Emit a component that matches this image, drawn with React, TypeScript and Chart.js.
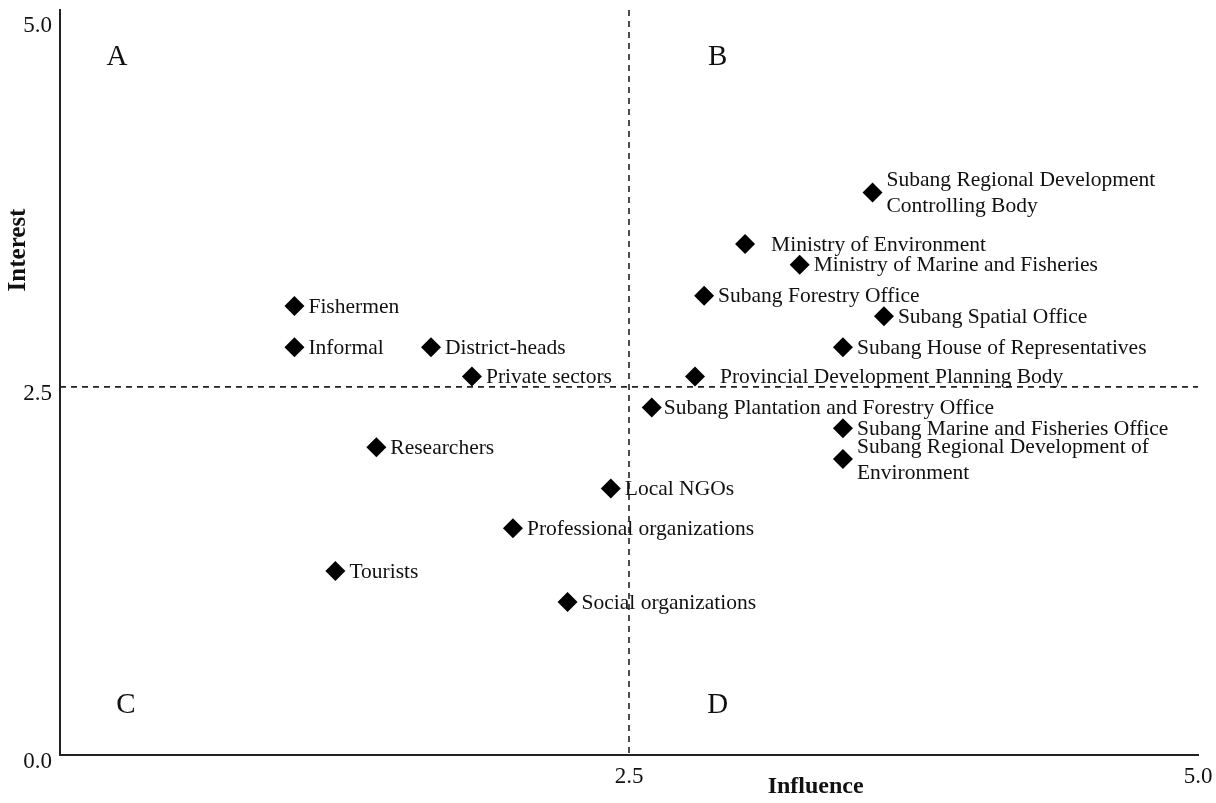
import React, { useEffect, useRef } from "react";
import { Chart, registerables } from "chart.js";

Chart.register(...registerables);

const stakeholders: (string | string[])[] = [
  "Fishermen",
  "Informal",
  "District-heads",
  "Private sectors",
  "Researchers",
  "Tourists",
  "Local NGOs",
  "Professional organizations",
  "Social organizations",
  ["Subang Regional Development", "Controlling Body"],
  "Ministry of Environment",
  "Ministry of Marine and Fisheries",
  "Subang Forestry Office",
  "Subang Spatial Office",
  "Subang House of Representatives",
  "Provincial Development Planning Body",
  "Subang Plantation and Forestry Office",
  "Subang Marine and Fisheries Office",
  ["Subang Regional Development of", "Environment"],
];

const influence: number[] = [
  1.03, 1.03, 1.63, 1.81, 1.39, 1.21, 2.42, 1.99, 2.23,
  3.57, 3.01, 3.25, 2.83, 3.62, 3.44, 2.79, 2.60, 3.44, 3.44,
];

const interest: number[] = [
  3.05, 2.77, 2.77, 2.57, 2.09, 1.25, 1.81, 1.54, 1.04,
  3.82, 3.47, 3.33, 3.12, 2.98, 2.77, 2.57, 2.36, 2.22, 2.01,
];

const xTickValues: number[] = [2.5, 5];
const yTickValues: number[] = [0, 2.5, 5];
const midline = 2.5;

const quadrantLetters: string[] = ["A", "B", "C", "D"];
const quadrantX: number[] = [0.25, 2.89, 0.29, 2.89];
const quadrantY: number[] = [4.74, 4.74, 0.34, 0.34];

const xTitle = "Influence";
const yTitle = "Interest";

const SERIF = '"Liberation Serif", "Times New Roman", serif';
const INK = "#111";

const GAP_DEFAULT = 14;
const GAP_OVERRIDES: Record<string, number> = {
  "Ministry of Environment": 26,
  "Provincial Development Planning Body": 25,
  "Subang Plantation and Forestry Office": 12,
};

const overlayPlugin = {
  id: "overlay",
  beforeDatasetsDraw(chart: any) {
    const { ctx, chartArea, scales } = chart;
    const xs = scales.x;
    const ys = scales.y;
    ctx.save();
    ctx.strokeStyle = "#222";
    ctx.lineWidth = 1.6;
    ctx.setLineDash([6, 5]);
    const px = xs.getPixelForValue(midline);
    const py = ys.getPixelForValue(midline);
    ctx.beginPath();
    ctx.moveTo(px, chartArea.top);
    ctx.lineTo(px, chartArea.bottom);
    ctx.stroke();
    ctx.beginPath();
    ctx.moveTo(chartArea.left, py);
    ctx.lineTo(chartArea.right, py);
    ctx.stroke();
    ctx.setLineDash([]);

    ctx.fillStyle = INK;
    ctx.font = `29px ${SERIF}`;
    ctx.textAlign = "center";
    ctx.textBaseline = "middle";
    quadrantLetters.forEach((l, i) => {
      ctx.fillText(l, xs.getPixelForValue(quadrantX[i]), ys.getPixelForValue(quadrantY[i]));
    });

    ctx.font = `bold 24px ${SERIF}`;
    ctx.fillText(xTitle, xs.getPixelForValue(3.32), 787);
    ctx.save();
    ctx.translate(19, ys.getPixelForValue(3.43));
    ctx.rotate(-Math.PI / 2);
    ctx.font = `bold 25px ${SERIF}`;
    ctx.fillText(yTitle, 0, 0);
    ctx.restore();
    ctx.restore();
  },
  afterDatasetsDraw(chart: any) {
    const { ctx } = chart;
    const meta = chart.getDatasetMeta(0);
    ctx.save();
    ctx.fillStyle = INK;
    ctx.font = `21.5px ${SERIF}`;
    ctx.textAlign = "left";
    ctx.textBaseline = "middle";
    meta.data.forEach((pt: any, i: number) => {
      const label = stakeholders[i];
      const key = Array.isArray(label) ? label.join(" ") : label;
      const gap = GAP_OVERRIDES[key] ?? GAP_DEFAULT;
      const lines = Array.isArray(label) ? label : [label];
      const lh = 26;
      const startY = pt.y + 1 - ((lines.length - 1) * lh) / 2;
      lines.forEach((ln, j) => {
        ctx.fillText(ln, pt.x + gap, startY + j * lh);
      });
    });
    ctx.restore();
  },
};

export default function App() {
  const canvasRef = useRef<HTMLCanvasElement | null>(null);

  useEffect(() => {
    if (!canvasRef.current) return;
    const points = influence.map((x, i) => ({ x, y: interest[i] }));
    const chart = new Chart(canvasRef.current, {
      type: "scatter",
      data: {
        datasets: [
          {
            data: points,
            pointStyle: "rectRot",
            pointRadius: 10,
            pointHoverRadius: 10,
            backgroundColor: "#000",
            borderColor: "#000",
            borderWidth: 0,
          },
        ],
      },
      options: {
        animation: false,
        responsive: false,
        devicePixelRatio: 1,
        layout: { padding: { left: 0, right: 18, top: 8, bottom: 0 } },
        plugins: {
          legend: { display: false },
          tooltip: { enabled: false },
        },
        scales: {
          x: {
            type: "linear",
            min: 0,
            max: 5,
            grid: { display: false, drawTicks: false },
            border: { display: true, color: "#222", width: 2 },
            afterBuildTicks: (s: any) => {
              s.ticks = xTickValues.map((v) => ({ value: v }));
            },
            afterFit: (s: any) => {
              s.height = 48;
              s.paddingLeft = 0;
              s.paddingRight = 0;
            },
            ticks: {
              padding: 8,
              color: INK,
              font: { family: SERIF, size: 23 },
              maxRotation: 0,
              callback: (v: any) => Number(v).toFixed(1),
            },
          },
          y: {
            type: "linear",
            min: 0,
            max: 5.06,
            grid: { display: false, drawTicks: false },
            border: { display: true, color: "#222", width: 2 },
            afterBuildTicks: (s: any) => {
              s.ticks = yTickValues.map((v) => ({ value: v }));
            },
            afterFit: (s: any) => {
              s.width = 60;
              s.paddingTop = 0;
              s.paddingBottom = 0;
            },
            ticks: {
              padding: 8,
              labelOffset: 7,
              color: INK,
              font: { family: SERIF, size: 23 },
              callback: (v: any) => Number(v).toFixed(1),
            },
          },
        },
      },
      plugins: [overlayPlugin],
    });
    return () => chart.destroy();
  }, []);

  return (
    <div style={{ position: "absolute", left: 0, top: 0, width: 1216, height: 803, background: "#fff" }}>
      <canvas ref={canvasRef} width={1216} height={803} />
    </div>
  );
}
